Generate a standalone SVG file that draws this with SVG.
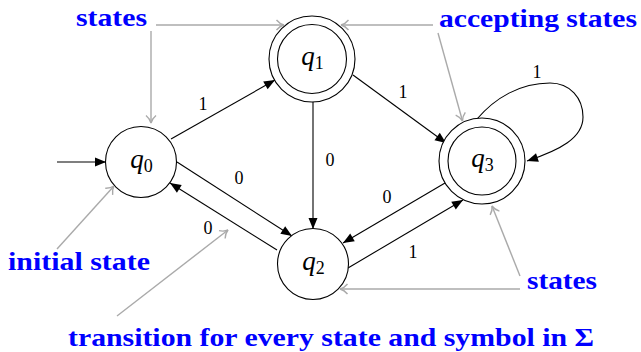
<svg xmlns="http://www.w3.org/2000/svg" width="641" height="352" viewBox="0 0 641 352" font-family="Liberation Serif, serif">
<style>
  .st { fill: #ffffff; stroke: #000000; stroke-width: 1.1; }
  .qt { font-style: italic; font-size: 27px; fill: #000; }
  .sub { font-style: normal; font-size: 18px; }
  .edge { fill: none; stroke: #000000; stroke-width: 1.1; marker-end: url(#latex); }
  .note { fill: none; stroke: #aaaaaa; stroke-width: 1.4; marker-end: url(#to); }
  .el { font-size: 18px; fill: #000; text-anchor: middle; }
  .bl { font-weight: bold; font-size: 25px; fill: #0000ff; }
</style>
<defs>
  <marker id="latex" markerUnits="userSpaceOnUse" markerWidth="14" markerHeight="12" viewBox="-12 -6 13 12" refX="0" refY="0" orient="auto">
    <path d="M0,0 L-11,-4.5 L-11,4.5 Z" fill="#000"/>
  </marker>
  <marker id="to" markerUnits="userSpaceOnUse" markerWidth="14" markerHeight="14" viewBox="-9 -7 10 14" refX="0" refY="0" orient="auto">
    <path d="M-7.5,-5 C-5,-2 -2.5,-0.6 0,0 C-2.5,0.6 -5,2 -7.5,5" fill="none" stroke="#aaaaaa" stroke-width="1.4"/>
  </marker>
</defs>

<g id="connectors">
  <line class="edge" x1="57" y1="162" x2="106" y2="162"/>
  <line class="edge" x1="171" y1="139" x2="275" y2="80"/>
  <line class="edge" x1="177" y1="162" x2="292" y2="236"/>
  <line class="edge" x1="277" y1="250" x2="170" y2="183"/>
  <line class="edge" x1="313" y1="102" x2="313" y2="229"/>
  <line class="edge" x1="353" y1="75" x2="446" y2="143"/>
  <line class="edge" x1="445" y1="183" x2="343" y2="243"/>
  <line class="edge" x1="348" y1="268" x2="463" y2="200"/>
  <path class="edge" d="M477,119 C495,98 520,83 550,83 C570,83 583,98 583,117 C583,138 560,150 527,161"/>
  <text class="el" font-family="Liberation Serif, serif" x="203" y="110">1</text>
  <text class="el" font-family="Liberation Serif, serif" x="239" y="184">0</text>
  <text class="el" font-family="Liberation Serif, serif" x="208" y="234">0</text>
  <text class="el" font-family="Liberation Serif, serif" x="330" y="166">0</text>
  <text class="el" font-family="Liberation Serif, serif" x="403" y="98">1</text>
  <text class="el" font-family="Liberation Serif, serif" x="387" y="203">0</text>
  <text class="el" font-family="Liberation Serif, serif" x="413" y="258">1</text>
  <text class="el" font-family="Liberation Serif, serif" x="537" y="78">1</text>
</g>

<g id="q0">
  <circle class="st" cx="141" cy="162" r="35.5"/>
  <text class="qt" font-family="Liberation Serif, serif" x="141.5" y="168" text-anchor="middle">q<tspan class="sub" dy="4">0</tspan></text>
</g>
<g id="q1">
  <circle class="st" cx="312" cy="59" r="43"/>
  <circle class="st" cx="312" cy="59" r="34.5"/>
  <text class="qt" font-family="Liberation Serif, serif" x="312.5" y="65" text-anchor="middle">q<tspan class="sub" dy="4">1</tspan></text>
</g>
<g id="q2">
  <circle class="st" cx="313" cy="264" r="35.5"/>
  <text class="qt" font-family="Liberation Serif, serif" x="313.5" y="270" text-anchor="middle">q<tspan class="sub" dy="4">2</tspan></text>
</g>
<g id="q3">
  <circle class="st" cx="482" cy="161" r="43"/>
  <circle class="st" cx="482" cy="161" r="34"/>
  <text class="qt" font-family="Liberation Serif, serif" x="482.5" y="167" text-anchor="middle">q<tspan class="sub" dy="4">3</tspan></text>
</g>

<g id="annotations">
  <line class="note" x1="156" y1="25" x2="284" y2="25"/>
  <line class="note" x1="151" y1="31" x2="151" y2="123"/>
  <line class="note" x1="433" y1="25" x2="341" y2="25"/>
  <line class="note" x1="438" y1="33" x2="462.5" y2="121"/>
  <line class="note" x1="57" y1="249" x2="114" y2="186"/>
  <line class="note" x1="117" y1="316" x2="228" y2="230"/>
  <line class="note" x1="520" y1="276" x2="492" y2="206"/>
  <line class="note" x1="520" y1="289" x2="340" y2="289"/>
  <text class="bl" font-family="Liberation Serif, serif" x="76" y="26" textLength="71" lengthAdjust="spacingAndGlyphs">states</text>
  <text class="bl" font-family="Liberation Serif, serif" x="439" y="27" textLength="198" lengthAdjust="spacingAndGlyphs">accepting states</text>
  <text class="bl" font-family="Liberation Serif, serif" x="8" y="270" textLength="142" lengthAdjust="spacingAndGlyphs">initial state</text>
  <text class="bl" font-family="Liberation Serif, serif" x="527" y="289" textLength="70" lengthAdjust="spacingAndGlyphs">states</text>
  <text class="bl" font-family="Liberation Serif, serif" x="68" y="346" textLength="526" lengthAdjust="spacingAndGlyphs">transition for every state and symbol in Σ</text>
</g>
</svg>
